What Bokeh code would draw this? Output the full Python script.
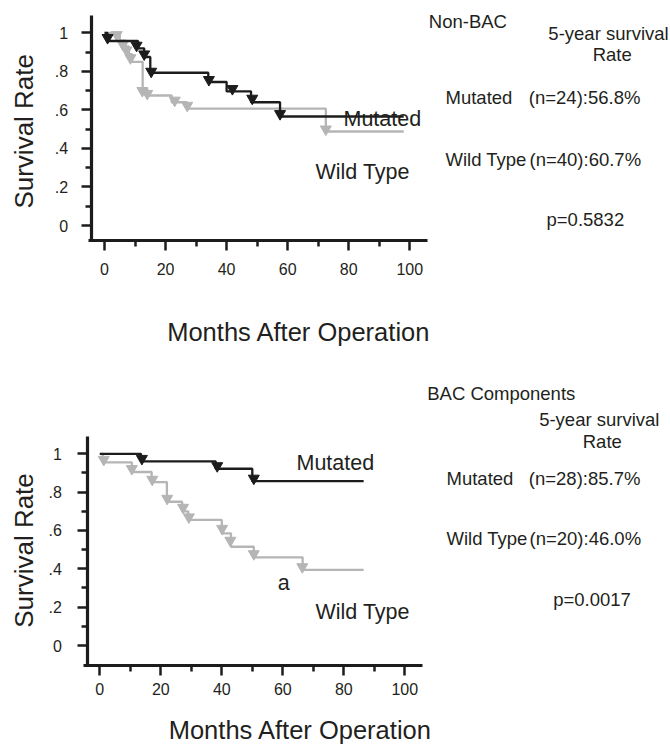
import numpy as np
from bokeh.plotting import figure
from bokeh.models import LinearAxis, FixedTicker, Range1d, Label, CustomJSTickFormatter
from bokeh.layouts import column
from bokeh.embed import file_html
from bokeh.resources import INLINE

# ---------------- data ----------------
# Panel 1: Non-BAC
nonbac_mut_time = [0, 1, 11, 13, 15, 34, 40, 48, 57.5, 98]
nonbac_mut_surv = [1.0, 0.958, 0.92, 0.875, 0.793, 0.745, 0.696, 0.64, 0.566, 0.566]
nonbac_mut_mark_time = [1, 10.5, 13, 15.3, 34.2, 41.9, 48.4, 57.5]
nonbac_mut_mark_surv = [0.975, 0.935, 0.89, 0.80, 0.757, 0.71, 0.66, 0.58]

nonbac_wt_time = [0, 5, 7, 8, 9, 12.5, 14, 22, 27, 72.5, 98]
nonbac_wt_surv = [1.0, 0.96, 0.93, 0.89, 0.85, 0.71, 0.675, 0.64, 0.607, 0.488, 0.488]
nonbac_wt_mark_time = [4, 6, 7.2, 8.5, 12.4, 14, 23, 27.1, 72.5]
nonbac_wt_mark_surv = [0.99, 0.94, 0.91, 0.87, 0.70, 0.685, 0.65, 0.623, 0.50]

# Panel 2: BAC components
bac_mut_time = [0, 13.5, 38, 50, 86.5]
bac_mut_surv = [1.0, 0.961, 0.922, 0.857, 0.857]
bac_mut_mark_time = [13.8, 38.5, 50.5]
bac_mut_mark_surv = [0.975, 0.937, 0.872]

bac_wt_time = [0, 1, 10.5, 17, 22, 27, 29, 40, 43, 50.5, 66.5, 86.5]
bac_wt_surv = [1.0, 0.955, 0.905, 0.852, 0.75, 0.70, 0.655, 0.585, 0.515, 0.46, 0.395, 0.395]
bac_wt_mark_time = [1.3, 10.5, 17.2, 22.1, 27.3, 29.2, 40.1, 42.8, 50.5, 66.4]
bac_wt_mark_surv = [0.97, 0.922, 0.866, 0.767, 0.72, 0.67, 0.61, 0.548, 0.478, 0.41]

x_ticks = [0, 20, 40, 60, 80, 100]
x_minor_ticks = [10, 30, 50, 70, 90]
y_ticks = [0, 0.2, 0.4, 0.6, 0.8, 1.0]
y_minor_ticks = [0.1, 0.3, 0.5, 0.7, 0.9]

group_names = ["Mutated", "Wild Type"]
nonbac_stats = ["(n=24):56.8%", "(n=40):60.7%"]
nonbac_p = "p=0.5832"
bac_stats = ["(n=28):85.7%", "(n=20):46.0%"]
bac_p = "p=0.0017"

# ---------------- styling ----------------
W = 670
FONT = "Liberation Sans"
BLACK = "#1c1c1c"
GRAY = "#b5b5b5"
TEXT = "#231f20"
BASE_SHIFT = 0.38  # em offset between Bokeh's label anchor and the glyph baseline

y_formatter = CustomJSTickFormatter(code="""
    if (Math.abs(tick) < 1e-9) return "0";
    if (Math.abs(tick - 1) < 1e-9) return "1";
    return tick.toFixed(1).replace(/^0/, "");
""")


def make_panel(g, mut, wt, texts):
    tx = lambda xr: (xr - g["x0"]) / g["sx"]
    vy = lambda yr: (g["y0"] - yr) / g["sy"]
    p = figure(width=W, height=g["h"],
               x_range=Range1d(tx(0), tx(W)),
               y_range=Range1d(vy(g["top"] + g["h"]), vy(g["top"])),
               x_axis_location=None, y_axis_location=None,
               toolbar_location=None, output_backend="svg",
               min_border=0, outline_line_color=None,
               background_fill_color="white", border_fill_color="white")
    p.grid.visible = False

    xaxis = LinearAxis(fixed_location=vy(g["xa_y"]),
                       bounds=(tx(g["xa_x0"]), tx(g["xa_x1"])),
                       ticker=FixedTicker(ticks=x_ticks, minor_ticks=x_minor_ticks))
    yaxis = LinearAxis(fixed_location=tx(g["ya_x"]),
                       bounds=(vy(g["xa_y"]), vy(g["ya_y0"])),
                       ticker=FixedTicker(ticks=y_ticks, minor_ticks=y_minor_ticks),
                       formatter=y_formatter)
    for ax, so in ((xaxis, g["xso"]), (yaxis, g["yso"])):
        ax.axis_line_width = 3.2
        ax.axis_line_color = BLACK
        ax.major_tick_line_width = 2.5
        ax.minor_tick_line_width = 2.5
        ax.major_tick_line_color = BLACK
        ax.minor_tick_line_color = BLACK
        ax.major_tick_in = 0
        ax.minor_tick_in = 0
        ax.major_tick_out = 10
        ax.minor_tick_out = 6
        ax.major_label_text_font = FONT
        ax.major_label_text_font_size = "16px"
        ax.major_label_text_color = TEXT
        ax.major_label_standoff = so
    p.add_layout(xaxis, "below")
    p.add_layout(yaxis, "left")

    for (t, s, mt, ms), col in ((wt, GRAY), (mut, BLACK)):
        p.step(x=t, y=s, mode="after", line_color=col, line_width=2.3)
        p.scatter(x=mt, y=ms, marker="inverted_triangle", size=11,
                  fill_color=col, line_color=col, line_width=1)

    for txt, xr, yr, size, align, angle in texts:
        if angle == 0:
            yr = yr - BASE_SHIFT * size
        else:
            xr = xr - BASE_SHIFT * size
        p.add_layout(Label(x=tx(xr), y=vy(yr), text=txt, text_font=FONT,
                           text_font_size=f"{size}px", text_color=TEXT,
                           text_align=align, text_baseline="alphabetic",
                           angle=angle))
    return p


g1 = dict(x0=104, sx=3.053, y0=225, sy=192.6, top=0, h=370,
          xa_y=240, xa_x0=88, xa_x1=427, ya_x=90.7, ya_y0=15, xso=12, yso=13)
g2 = dict(x0=99.3, sx=3.05, y0=645, sy=191.7, top=370, h=375,
          xa_y=665, xa_x0=83, xa_x1=421.7, ya_x=87.3, ya_y0=436, xso=7, yso=16)

R = np.pi / 2
texts1 = [
    ("Survival Rate", 33.3, 130.8, 26, "center", R),
    ("Months After Operation", 298.5, 341, 25.5, "center", 0),
    (group_names[0], 343, 126.4, 21.5, "left", 0),
    (group_names[1], 315, 180, 21.5, "left", 0),
    ("Non-BAC", 428.3, 28.2, 18.5, "left", 0),
    ("5-year survival", 608, 40.5, 18.5, "center", 0),
    ("Rate", 611.7, 61.5, 18.5, "center", 0),
    (group_names[0], 445, 103.9, 18.5, "left", 0),
    (nonbac_stats[0], 528.3, 103.9, 18.5, "left", 0),
    (group_names[1], 445, 166.5, 18.5, "left", 0),
    (nonbac_stats[1], 529, 166.5, 18.5, "left", 0),
    (nonbac_p, 546, 226.5, 18.5, "left", 0),
]
texts2 = [
    ("Survival Rate", 33.3, 550, 26, "center", R),
    ("Months After Operation", 300, 739.5, 25.5, "center", 0),
    (group_names[0], 296, 470.5, 21.5, "left", 0),
    ("a", 277.3, 591, 21.5, "left", 0),
    (group_names[1], 315, 620, 21.5, "left", 0),
    ("BAC Components", 426.7, 400, 18.5, "left", 0),
    ("5-year survival", 598.8, 426.5, 18.5, "center", 0),
    ("Rate", 601.8, 448.2, 18.5, "center", 0),
    (group_names[0], 446, 485, 18.5, "left", 0),
    (bac_stats[0], 528.3, 485, 18.5, "left", 0),
    (group_names[1], 446, 545, 18.5, "left", 0),
    (bac_stats[1], 529, 545, 18.5, "left", 0),
    (bac_p, 552.7, 606.5, 18.5, "left", 0),
]

p1 = make_panel(g1,
                (nonbac_mut_time, nonbac_mut_surv, nonbac_mut_mark_time, nonbac_mut_mark_surv),
                (nonbac_wt_time, nonbac_wt_surv, nonbac_wt_mark_time, nonbac_wt_mark_surv),
                texts1)
p2 = make_panel(g2,
                (bac_mut_time, bac_mut_surv, bac_mut_mark_time, bac_mut_mark_surv),
                (bac_wt_time, bac_wt_surv, bac_wt_mark_time, bac_wt_mark_surv),
                texts2)

layout = column(p1, p2)
open("out.html", "w").write(file_html(layout, INLINE))
